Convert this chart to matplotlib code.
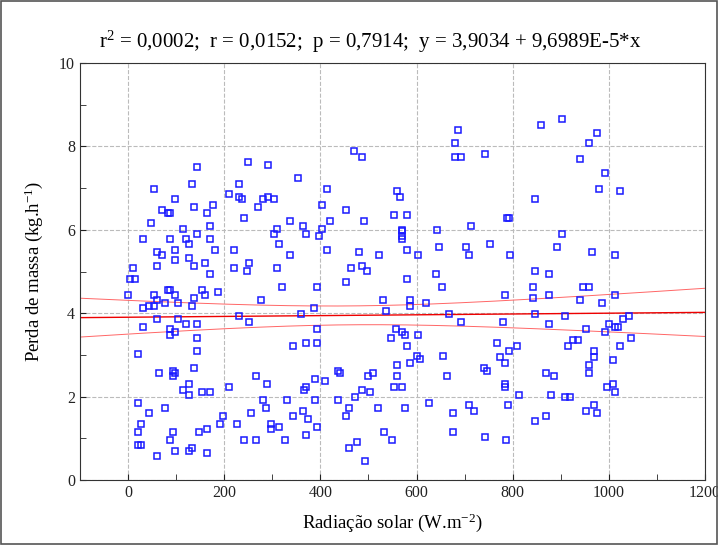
import numpy as np
import matplotlib.pyplot as plt
from matplotlib.patches import Rectangle
from matplotlib.ticker import MultipleLocator

plt.rcParams['font.family'] = ['Liberation Serif', 'DejaVu Serif']
plt.rcParams['mathtext.fontset'] = 'custom'
plt.rcParams['mathtext.rm'] = 'Liberation Serif'
plt.rcParams['mathtext.it'] = 'Liberation Serif:italic'

# radiation (W.m-2) and mass loss (kg.h-1)
radiacao = [
    143, 249, 54, 132, 231, 209, 231, 237, 98, 176, 137, 71, 82, 87, 165, 242, 48, 115, 170,
    469, 486, 292, 353, 414, 292, 281, 303, 270, 403, 453, 336, 420, 491, 309, 364, 403,
    687, 681, 681, 692, 742, 559, 565, 554, 581, 789, 714, 570, 642,
    858, 903, 975, 958, 941, 991, 980, 1024, 847, 792,
    143, 32, 87, 120, 170, 126, 98, 181, 220, 60, 71, 126, 98, 159, 60, 137, 10, 220, 248, 252,
    170, 4, 15, 82, 87, 154, 0, 54, 98, 159, 187, 60, 137, 76, 104, 43, 54, 132, 32, 231, 252,
    60, 104, 120, 143, 32, 87, 87, 98, 143, 21, 143,
    303, 370, 397, 314, 414, 480, 522, 336, 309, 464, 486, 497, 453, 320, 392, 276, 386, 359,
    392, 342, 370, 392,
    570, 570, 570, 581, 647, 702, 753, 602, 709, 795, 580, 641, 652, 530, 586, 586, 619, 785,
    536, 667, 692, 779, 558, 569, 575, 547, 602, 580, 768,
    903, 892, 964, 1013, 847, 875, 842, 947, 958, 842, 875, 1013, 941, 986, 847, 908, 1041,
    1030, 875, 1001, 1013, 1019, 953, 991, 1047, 808, 792, 914, 925, 936, 1024, 969,
    65, 93, 98, 93, 137, 126, 115, 126, 154, 170, 209, 21, 43, 76, 26, 21, 93, 87, 21, 26,
    60, 98, 126, 132, 165, 148, 165, 198, 192, 226, 255, 242,
    266, 288, 436, 441, 388, 410, 371, 366, 498, 509, 487, 504, 281, 331, 388, 436, 471, 287,
    364, 342, 375, 460, 454, 519, 298, 298, 314, 392, 266, 327, 370, 460, 476, 493,
    601, 608, 654, 586, 559, 559, 554, 570, 663, 741, 746, 774, 785, 785, 785, 576, 626, 676,
    709, 720, 791, 532, 548, 676, 742, 786,
    969, 1008, 958, 869, 886, 958, 997, 1008, 1013, 814, 880, 908, 919, 969, 953, 975, 869, 847,
]
perda = [
    7.50, 7.63, 6.99, 7.11, 7.11, 6.86, 6.79, 6.73, 6.73, 6.60, 6.54, 6.47, 6.41, 6.41, 6.41, 6.28, 6.16, 6.03, 6.09,
    7.88, 7.75, 7.56, 7.24, 6.99, 6.79, 6.73, 6.73, 6.54, 6.60, 6.47, 6.22, 6.22, 6.22, 6.03, 6.09, 6.03,
    8.39, 8.07, 7.75, 7.75, 7.82, 6.92, 6.79, 6.35, 6.35, 6.28, 6.09, 6.00, 6.00,
    8.52, 8.65, 8.33, 8.07, 7.69, 7.37, 6.99, 6.92, 6.73, 6.28,
    5.91, 5.78, 5.78, 5.78, 5.78, 5.65, 5.52, 5.52, 5.52, 5.46, 5.40, 5.33, 5.27, 5.20, 5.14, 5.14, 5.08, 5.08, 5.01, 5.20,
    4.95, 4.82, 4.82, 4.56, 4.56, 4.56, 4.44, 4.44, 4.44, 4.44, 4.50, 4.31, 4.37, 4.24, 4.24, 4.18, 4.18, 4.18, 4.12, 3.93, 3.80,
    3.86, 3.86, 3.73, 3.73, 3.67, 3.61, 3.48, 3.54, 3.41, 3.03, 3.09,
    5.91, 5.91, 5.84, 5.65, 5.52, 5.46, 5.40, 5.40, 5.08, 5.08, 5.14, 5.01, 4.76, 4.63, 4.63, 4.31, 4.12, 3.99,
    3.61, 3.22, 3.29, 3.29,
    5.97, 5.84, 5.78, 5.52, 5.59, 5.59, 5.65, 5.40, 5.40, 5.40, 4.82, 4.95, 4.63, 4.31, 4.31, 4.18, 4.24, 4.44,
    4.05, 3.99, 3.80, 3.80, 3.61, 3.54, 3.48, 3.41, 3.48, 3.22, 3.29,
    5.91, 5.59, 5.46, 5.40, 5.01, 4.95, 4.63, 4.63, 4.63, 4.37, 4.44, 4.44, 4.31, 4.24, 3.99, 3.93, 3.93,
    3.86, 3.73, 3.73, 3.67, 3.67, 3.61, 3.54, 3.41, 3.22, 3.09, 3.22, 3.35, 3.35, 3.22, 3.09,
    2.56, 2.62, 2.56, 2.49, 2.69, 2.30, 2.17, 2.05, 2.11, 2.11, 2.24, 1.85, 1.60, 1.73, 1.34, 1.15, 1.15, 0.96, 0.83, 0.83,
    0.58, 0.70, 0.70, 0.77, 0.64, 1.15, 1.22, 1.53, 1.34, 1.34, 1.60, 0.96,
    2.49, 2.30, 2.62, 2.56, 2.43, 2.37, 2.24, 2.17, 2.49, 2.56, 2.17, 2.11, 1.92, 1.92, 1.92, 1.92, 1.98, 1.73,
    1.66, 1.53, 1.47, 1.73, 1.53, 1.73, 1.34, 1.22, 1.28, 1.28, 0.96, 0.96, 1.09, 0.77, 0.90, 0.45,
    2.97, 2.90, 2.97, 2.81, 2.75, 2.49, 2.24, 2.24, 2.49, 2.69, 2.62, 2.94, 2.81, 2.30, 2.24, 1.73, 1.85, 1.60,
    1.79, 1.66, 1.79, 1.15, 0.96, 1.15, 1.02, 0.96,
    2.94, 2.88, 2.75, 2.56, 2.49, 2.56, 2.24, 2.30, 2.11, 2.05, 2.05, 1.98, 1.98, 1.79, 1.66, 1.60, 1.53, 1.41,
]

# regression reported in the header
intercepto = 3.9034
inclinacao = 9.6989e-5
titulo = r'r$^2$ = 0,0002;  r = 0,0152;  p = 0,7914;  y = 3,9034 + 9,6989E-5*x'

x = np.array(radiacao, dtype=float)
y = np.array(perda)

fig = plt.figure(figsize=(7.18, 5.45), dpi=100)
ax = fig.add_axes([80 / 718, 65 / 545, 625 / 718, 417 / 545])

ax.plot(x, y, 's', ms=5, mfc='none', mec='#1a1aff', mew=1.1, zorder=3)

# fitted line and 95% confidence band
xx = np.linspace(-100, 1200, 200)
yy = intercepto + inclinacao * xx
res = y - (intercepto + inclinacao * x)
n = len(x)
s = np.sqrt(np.sum(res ** 2) / (n - 2))
sxx = np.sum((x - x.mean()) ** 2)
half = 1.968 * s * np.sqrt(1 / n + (xx - x.mean()) ** 2 / sxx)
ax.plot(xx, yy, color='#ee0000', lw=1.0, zorder=2)
ax.plot(xx, yy + half, color='#ff6666', lw=0.7, zorder=2)
ax.plot(xx, yy - half, color='#ff6666', lw=0.7, zorder=2)

ax.set_xlim(-100, 1200)
ax.set_ylim(0, 10)
ax.xaxis.set_major_locator(MultipleLocator(200))
ax.xaxis.set_minor_locator(MultipleLocator(100))
ax.yaxis.set_major_locator(MultipleLocator(2))
ax.yaxis.set_minor_locator(MultipleLocator(1))
ax.tick_params(which='both', direction='in', length=4, labelsize=11.5, colors='#222222')
ax.grid(which='major', color='#bbbbbb', linestyle='--', linewidth=0.8)
ax.set_axisbelow(True)
for sp in ax.spines.values():
    sp.set_color('#333333')

ax.set_xlabel(r'Radiação solar (W.m$^{-2}$)', fontsize=13.5, labelpad=8)
ax.set_ylabel(r'Perda de massa (kg.h$^{-1}$)', fontsize=13.5, labelpad=10)
fig.text(370 / 718, 1 - 42 / 545, titulo, fontsize=15, ha='center', va='center')

fig.patches.append(Rectangle((0.002, 0.002), 0.996, 0.996, transform=fig.transFigure,
                             fill=False, edgecolor='#555555', lw=1.2))

plt.savefig('out.png', dpi=100)
